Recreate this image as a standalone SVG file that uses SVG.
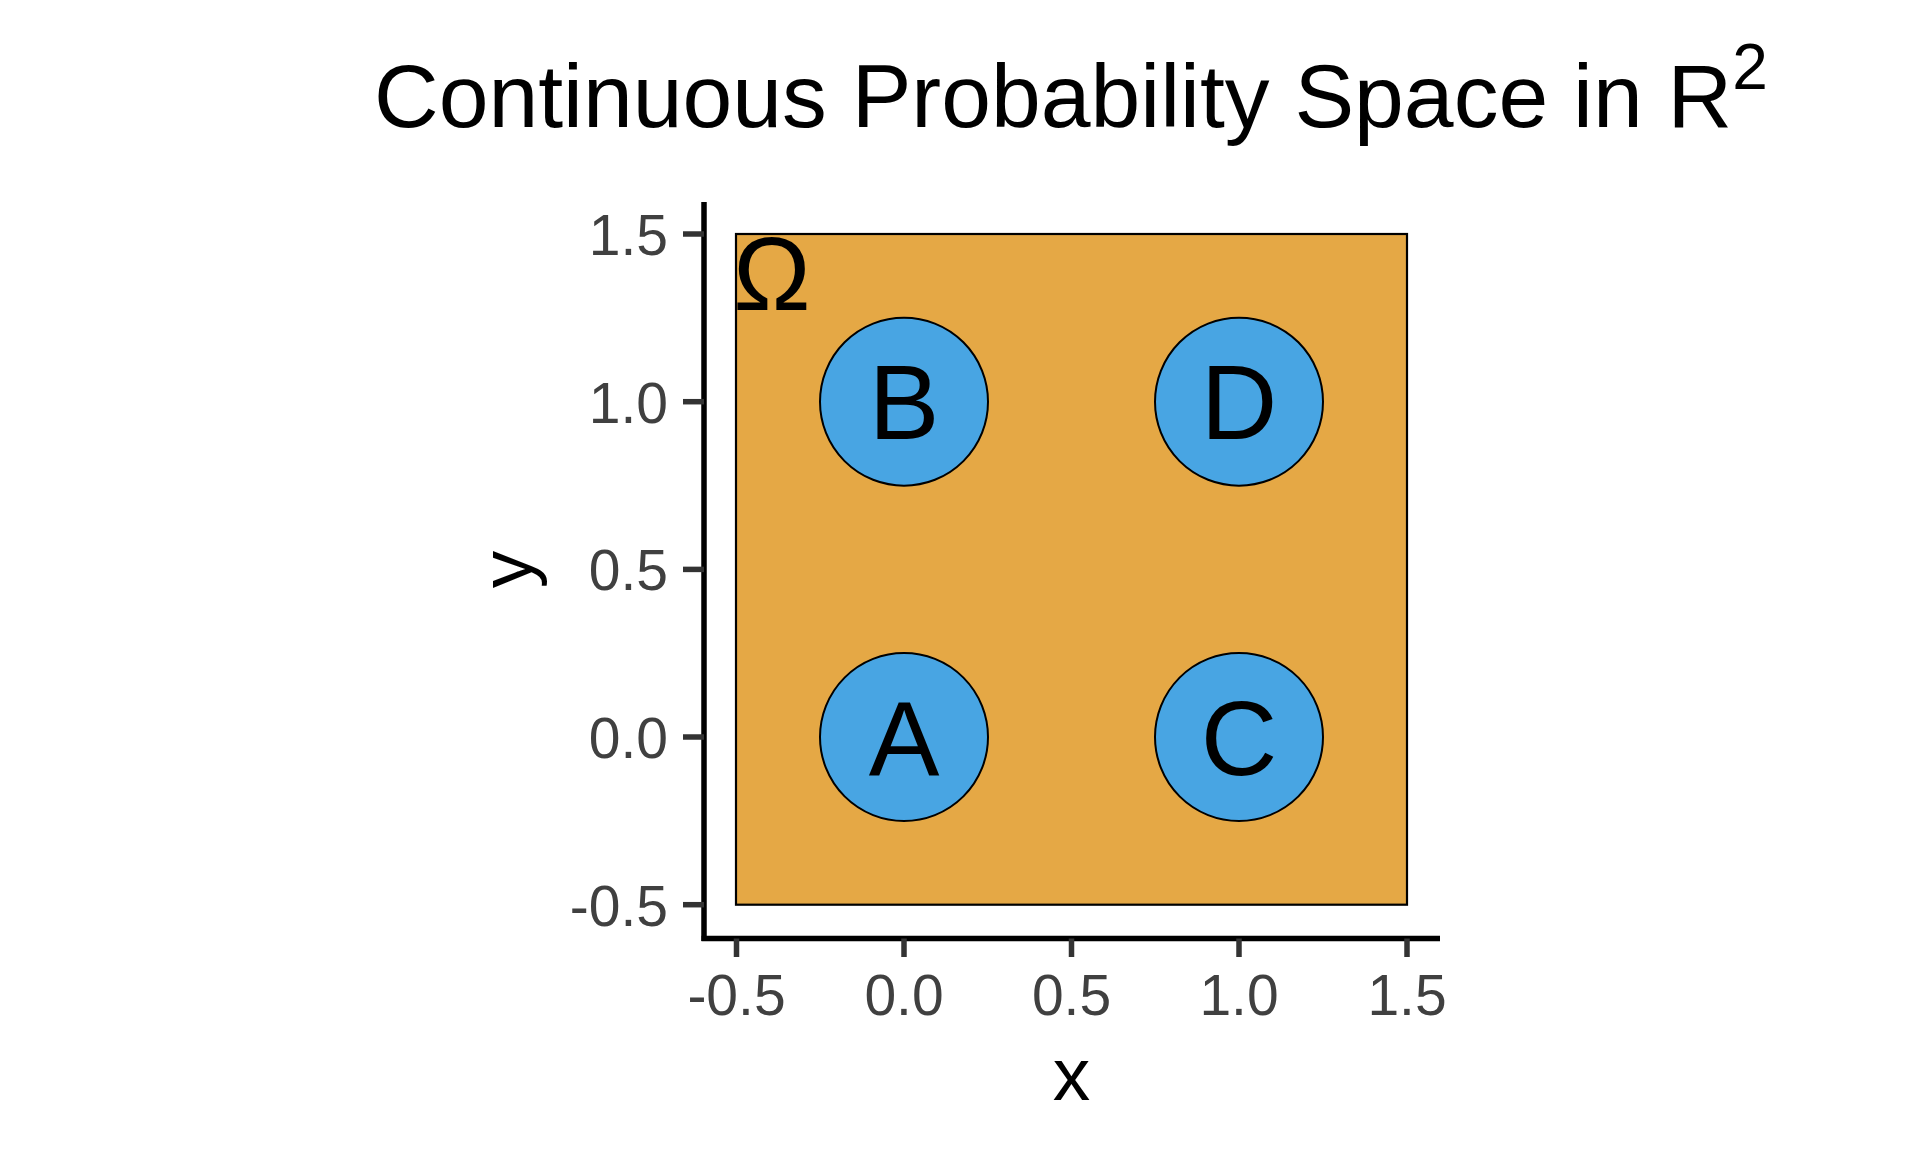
<svg xmlns="http://www.w3.org/2000/svg" width="1920" height="1152" viewBox="0 0 1920 1152">
<style>
text{font-family:"Liberation Sans",Arial,sans-serif}
.tick{stroke:#333333;stroke-width:5.5}
.axis{stroke:#000000;stroke-width:5.5;fill:none}
.tl{font-size:57px;fill:#404040}
.ev{fill:#48A5E3;stroke:#000000;stroke-width:2}
.evl{font-size:106px;fill:#000000;text-anchor:middle}
</style>
<rect width="1920" height="1152" fill="#FFFFFF"/>
<text x="374" y="127" font-size="89.5" fill="#000000">Continuous Probability Space in R<tspan font-size="64" dy="-38">2</tspan></text>
<g id="omega">
<rect x="736" y="234" width="671" height="670.7" fill="#E5A845" stroke="#000000" stroke-width="2.2"/>
<text x="733" y="310" font-size="104" fill="#000000">Ω</text>
</g>
<g id="axes">
<line class="axis" x1="704" y1="202" x2="704" y2="941"/>
<line class="axis" x1="701.5" y1="938.5" x2="1440" y2="938.5"/>
<line class="tick" x1="683" y1="234" x2="704" y2="234"/>
<line class="tick" x1="683" y1="401.7" x2="704" y2="401.7"/>
<line class="tick" x1="683" y1="569.4" x2="704" y2="569.4"/>
<line class="tick" x1="683" y1="737" x2="704" y2="737"/>
<line class="tick" x1="683" y1="904.7" x2="704" y2="904.7"/>
<line class="tick" x1="736.5" y1="938.5" x2="736.5" y2="957"/>
<line class="tick" x1="904" y1="938.5" x2="904" y2="957"/>
<line class="tick" x1="1071.5" y1="938.5" x2="1071.5" y2="957"/>
<line class="tick" x1="1239" y1="938.5" x2="1239" y2="957"/>
<line class="tick" x1="1407" y1="938.5" x2="1407" y2="957"/>
<g class="tl" text-anchor="end">
<text x="668" y="255">1.5</text>
<text x="668" y="422.5">1.0</text>
<text x="668" y="590">0.5</text>
<text x="668" y="758">0.0</text>
<text x="668" y="925.5">-0.5</text>
</g>
<g class="tl" text-anchor="middle">
<text x="736.5" y="1015">-0.5</text>
<text x="904" y="1015">0.0</text>
<text x="1071.5" y="1015">0.5</text>
<text x="1239" y="1015">1.0</text>
<text x="1407" y="1015">1.5</text>
</g>
<text x="1071.5" y="1100" font-size="75" text-anchor="middle">x</text>
<text x="532" y="569.4" font-size="75" text-anchor="middle" transform="rotate(-90 532 569.4)">y</text>
</g>
<g id="B"><circle class="ev" cx="904" cy="401.7" r="84"/><text class="evl" x="904" y="439">B</text></g>
<g id="D"><circle class="ev" cx="1239" cy="401.7" r="84"/><text class="evl" x="1239" y="439">D</text></g>
<g id="A"><circle class="ev" cx="904" cy="737" r="84"/><text class="evl" x="904" y="774.5">A</text></g>
<g id="C"><circle class="ev" cx="1239" cy="737" r="84"/><text class="evl" x="1239" y="774.5">C</text></g>
</svg>
